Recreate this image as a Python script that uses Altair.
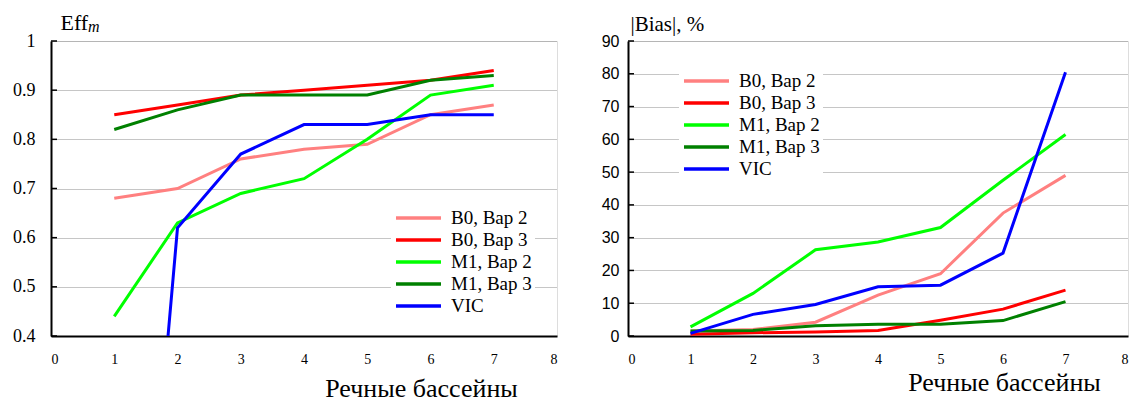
import altair as alt
import pandas as pd

SERIF = "Liberation Serif"
SANS = "Liberation Sans"

basins = [1, 2, 3, 4, 5, 6, 7]
series_names = ["B0, Вар 2", "B0, Вар 3", "M1, Вар 2", "M1, Вар 3", "VIC"]
series_colors = ["#FF8080", "#FF0000", "#00FF00", "#008000", "#0000FF"]

# Left panel: Eff_m
eff_b0_v2 = [0.68, 0.70, 0.76, 0.78, 0.79, 0.85, 0.87]
eff_b0_v3 = [0.85, 0.87, 0.89, 0.90, 0.91, 0.92, 0.94]
eff_m1_v2 = [0.44, 0.63, 0.69, 0.72, 0.80, 0.89, 0.91]
eff_m1_v3 = [0.82, 0.86, 0.89, 0.89, 0.89, 0.92, 0.93]
eff_vic = [-0.85, 0.62, 0.77, 0.83, 0.83, 0.85, 0.85]

# Right panel: |Bias|, %
bias_b0_v2 = [1.5, 2.0, 4.2, 12.5, 19.0, 37.5, 49.0]
bias_b0_v3 = [0.5, 1.0, 1.2, 1.7, 4.8, 8.2, 14.0]
bias_m1_v2 = [2.8, 13.0, 26.3, 28.7, 33.1, 47.5, 61.5]
bias_m1_v3 = [1.5, 1.7, 3.1, 3.6, 3.6, 4.7, 10.5]
bias_vic = [0.8, 6.6, 9.6, 15.0, 15.5, 25.3, 80.5]

x_ticks = [0, 1, 2, 3, 4, 5, 6, 7, 8]
eff_ticks = [0.4, 0.5, 0.6, 0.7, 0.8, 0.9, 1.0]
bias_ticks = [0, 10, 20, 30, 40, 50, 60, 70, 80, 90]


def long_df(lists):
    rows = []
    for name, vals in zip(series_names, lists):
        for b, v in zip(basins, vals):
            rows.append({"basin": b, "value": v, "series": name})
    return pd.DataFrame(rows)


def y_enc(y_domain, y_axis):
    return alt.Y(
        "value:Q",
        scale=alt.Scale(domain=y_domain, nice=False, zero=False),
        axis=y_axis,
    )


def panel(df, y_domain, y_axis, legend_x, legend_y, xtitle_x, xtitle_y):
    x_enc = alt.X(
        "basin:Q",
        scale=alt.Scale(domain=[0, 8], nice=False, zero=False),
        axis=alt.Axis(
            values=x_ticks, format="d", grid=False, ticks=False, tickSize=0,
            domainColor="black", domainWidth=2,
            labelFont=SERIF, labelFontSize=14, labelColor="black", labelPadding=16,
            title="Речные бассейны", titleFont=SERIF, titleFontSize=26,
            titleFontWeight="normal", titleColor="black",
            titleX=xtitle_x, titleY=xtitle_y, titleAlign="center",
            titleBaseline="alphabetic",
        ),
    )
    color_enc = alt.Color(
        "series:N",
        scale=alt.Scale(domain=series_names, range=series_colors),
        legend=alt.Legend(
            orient="none", legendX=legend_x, legendY=legend_y, title=None,
            fillColor="white", padding=3, symbolType="stroke", symbolSize=2025,
            symbolStrokeWidth=3.5, rowPadding=0, clipHeight=22, labelFont=SERIF,
            labelFontSize=19, labelColor="black", labelOffset=8,
        ),
    )
    return alt.Chart(df).mark_line(strokeWidth=3, clip=True).encode(
        x=x_enc, y=y_enc(y_domain, y_axis), color=color_enc
    )


def inner_ticks(values, y_domain, y_axis):
    return alt.Chart(pd.DataFrame({"value": values})).mark_rule(
        color="black", strokeWidth=1.5
    ).encode(
        x=alt.value(0),
        x2=alt.value(6),
        y=y_enc(y_domain, y_axis),
    )


common_y = dict(
    grid=True, gridColor="#8c8c8c", gridDash=[1, 1], gridWidth=1,
    domainColor="black", domainWidth=2, ticks=False, tickSize=0,
    labelColor="black", titleAngle=0, titleAlign="left",
    titleBaseline="alphabetic", titleFontWeight="normal", titleColor="black",
    titleFont=SERIF,
)

left_axis = alt.Axis(
    values=eff_ticks, labelExpr="format(datum.value, '~g')",
    labelFont=SERIF, labelFontSize=18, labelPadding=16,
    title="Eff", titleFontSize=22, titleX=9, titleY=-12, **common_y,
)
right_axis = alt.Axis(
    values=bias_ticks, format="d",
    labelFont=SANS, labelFontSize=16, labelPadding=9,
    title="|Bias|, %", titleFontSize=21, titleX=2, titleY=-11, **common_y,
)

left_lines = panel(long_df([eff_b0_v2, eff_b0_v3, eff_m1_v2, eff_m1_v3, eff_vic]),
                   [0.4, 1.0], left_axis, 340, 163, 370, 60)
sub_m = alt.Chart(pd.DataFrame({"t": ["m"]})).mark_text(
    font=SERIF, fontSize=16, fontStyle="italic", align="left",
    baseline="alphabetic", color="black",
).encode(text="t:N", x=alt.value(37), y=alt.value(-9))
left = alt.layer(left_lines, inner_ticks(eff_ticks, [0.4, 1.0], left_axis), sub_m).properties(
    width=506, height=295
)

right_lines = panel(long_df([bias_b0_v2, bias_b0_v3, bias_m1_v2, bias_m1_v3, bias_vic]),
                    [0, 90], right_axis, 51, 26, 376, 54)
right = alt.layer(right_lines, inner_ticks(bias_ticks, [0, 90], right_axis)).properties(
    width=500, height=295
)

chart = (
    alt.hconcat(left, right, spacing=71, bounds="flush")
    .resolve_scale(color="independent", x="independent", y="independent")
    .resolve_legend(color="independent")
    .properties(padding={"left": 12, "top": 10, "right": 0, "bottom": 0})
    .configure_view(stroke="#999999", strokeWidth=2)
    .configure(background="white")
)

chart.save("out.html", embed_options={"renderer": "svg", "actions": False})
